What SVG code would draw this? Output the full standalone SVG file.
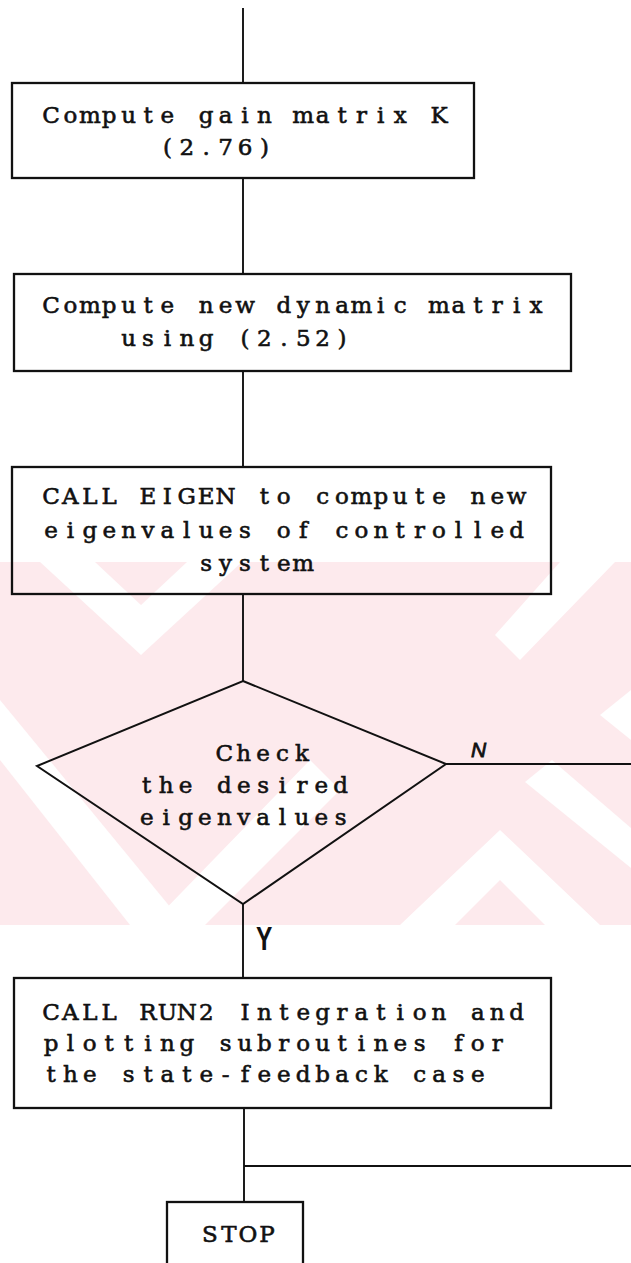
<svg xmlns="http://www.w3.org/2000/svg" width="631" height="1263" viewBox="0 0 631 1263">
<style>
.bg{fill:#ffffff}
.wm{fill:#fdeaed}
.wmw{fill:#ffffff}
.box{fill:none;stroke:#111;stroke-width:2.3}
.dia{fill:none;stroke:#111;stroke-width:2}
.ln{fill:none;stroke:#111;stroke-width:1.9}
.t{font-family:"DejaVu Serif","Liberation Serif",serif;font-size:23px;text-anchor:middle;fill:#111;stroke:#111;stroke-width:0.6}
.lab{font-family:"Liberation Sans",Arial,sans-serif;fill:#111}
</style>
<rect class="bg" x="0" y="0" width="631" height="1263"/>
<g id="watermark">
<rect class="wm" x="0" y="562" width="631" height="363"/>
<polygon class="wmw" points="40,562 95,562 141,605 187,562 242,562 141,655"/>
<polygon class="wmw" points="0,700 0,760 130,925 185,925"/>
<polygon class="wmw" points="150,925 205,925 340,790 310,760"/>
<polygon class="wmw" points="400,925 455,925 500,880 545,925 600,925 500,830"/>
<polygon class="wmw" points="560,562 615,562 520,660 495,635"/>
<polygon class="wmw" points="631,690 631,740 600,715"/>
<polygon class="wmw" points="525,782 552,760 631,828 631,868"/>
</g>
<g id="connectors">
<line class="ln" x1="243" y1="8" x2="243" y2="83"/>
<line class="ln" x1="243" y1="178" x2="243" y2="274"/>
<line class="ln" x1="243" y1="371" x2="243" y2="467"/>
<line class="ln" x1="243" y1="594" x2="243" y2="681"/>
<line class="ln" x1="446" y1="764" x2="631" y2="764"/>
<line class="ln" x1="243" y1="904" x2="243" y2="978"/>
<line class="ln" x1="244" y1="1108" x2="244" y2="1202"/>
<line class="ln" x1="244" y1="1166" x2="631" y2="1166"/>
<text class="lab" x="471" y="757" font-size="21" font-style="italic" stroke="#111" stroke-width="0.8">N</text>
<text class="lab" x="256" y="950" font-size="34" font-weight="bold" transform="translate(256 950) scale(0.72 1) translate(-256 -950)">Y</text>
</g>
<g id="node-gain">
<rect class="box" x="12" y="83" width="462" height="95"/>
<text class="t" y="123" x="51 70.4 89.8 109.2 128.6 148 167.4 186.8 206.2 225.6 245 264.4 283.8 303.2 322.6 342 361.4 380.8 400.2 419.6 439">Compute gain matrix K</text>
<text class="t" y="155" x="167.4 186.8 206.2 225.6 245 264.4">(2.76)</text>
</g>
<g id="node-dynamic">
<rect class="box" x="14" y="274" width="557" height="97"/>
<text class="t" y="313" x="51 70.4 89.8 109.2 128.6 148 167.4 186.8 206.2 225.6 245 264.4 283.8 303.2 322.6 342 361.4 380.8 400.2 419.6 439 458.4 477.8 497.2 516.6 536">Compute new dynamic matrix</text>
<text class="t" y="346" x="128.6 148 167.4 186.8 206.2 225.6 245 264.4 283.8 303.2 322.6 342">using (2.52)</text>
</g>
<g id="node-eigen">
<rect class="box" x="12" y="467" width="539" height="127"/>
<text class="t" y="504" x="51 70.4 89.8 109.2 128.6 148 167.4 186.8 206.2 225.6 245 264.4 283.8 303.2 322.6 342 361.4 380.8 400.2 419.6 439 458.4 477.8 497.2 516.6">CALL EIGEN to compute new</text>
<text class="t" y="538" x="51 70.4 89.8 109.2 128.6 148 167.4 186.8 206.2 225.6 245 264.4 283.8 303.2 322.6 342 361.4 380.8 400.2 419.6 439 458.4 477.8 497.2 516.6">eigenvalues of controlled</text>
<text class="t" y="571" x="206.2 225.6 245 264.4 283.8 303.2">system</text>
</g>
<g id="node-check">
<polygon class="dia" points="243,681 446,764 243,904 37,766"/>
<text class="t" y="761" x="224.3 243.7 263.1 282.5 301.9">Check</text>
<text class="t" y="793" x="146.7 166.1 185.5 204.9 224.3 243.7 263.1 282.5 301.9 321.3 340.7">the desired</text>
<text class="t" y="825" x="146.7 166.1 185.5 204.9 224.3 243.7 263.1 282.5 301.9 321.3 340.7">eigenvalues</text>
</g>
<g id="node-run2">
<rect class="box" x="14" y="978" width="537" height="130"/>
<text class="t" y="1020" x="51 70.4 89.8 109.2 128.6 148 167.4 186.8 206.2 225.6 245 264.4 283.8 303.2 322.6 342 361.4 380.8 400.2 419.6 439 458.4 477.8 497.2 516.6">CALL RUN2 Integration and</text>
<text class="t" y="1051" x="51 70.4 89.8 109.2 128.6 148 167.4 186.8 206.2 225.6 245 264.4 283.8 303.2 322.6 342 361.4 380.8 400.2 419.6 439 458.4 477.8 497.2">plotting subroutines for</text>
<text class="t" y="1082" x="51 70.4 89.8 109.2 128.6 148 167.4 186.8 206.2 225.6 245 264.4 283.8 303.2 322.6 342 361.4 380.8 400.2 419.6 439 458.4 477.8">the state-feedback case</text>
</g>
<g id="node-stop">
<rect class="box" x="167" y="1202" width="136" height="70"/>
<text class="t" y="1242" x="210 229 248 267">STOP</text>
</g>
</svg>
